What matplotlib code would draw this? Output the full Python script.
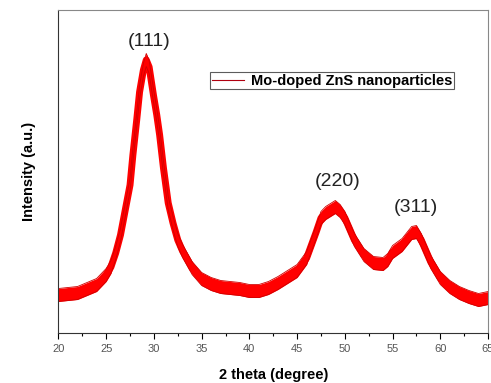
import numpy as np
import matplotlib
matplotlib.use('Agg')
import matplotlib.pyplot as plt
from matplotlib.ticker import MultipleLocator

plt.rcParams['font.family'] = ['Liberation Sans', 'DejaVu Sans']

# XRD pattern (centre of the noisy trace)
two_theta = [20, 21, 22, 23, 24, 25, 25.5, 26, 26.5, 27, 27.5, 27.8, 28.2, 28.5,
             28.9, 29.2, 29.5, 29.95, 30.3, 30.6, 31, 31.5, 32, 32.5, 33, 34, 35,
             36, 37, 38, 39, 40, 41, 42, 43, 44, 45, 46, 46.5, 47, 47.5, 48, 48.5,
             49, 49.5, 50, 51, 52, 53, 54, 54.5, 55, 56, 57, 57.5, 58, 59, 60, 61,
             62, 63, 64, 65]
intensity = [38, 39, 40, 44, 48, 58, 66, 80, 98, 123, 148, 178, 213, 241,
             263, 273, 266, 238, 218, 198, 165, 130, 110, 93, 82, 65, 54,
             49, 46, 45, 44, 42, 42, 45, 50, 56, 62, 75, 88, 101, 115, 120, 123,
             126, 122, 115, 93, 78, 70, 69, 73, 81, 88, 100, 101, 93, 71, 55, 46,
             40, 36, 33, 35]

peak_labels = ['(111)', '(220)', '(311)']
peak_pos = [29.5, 49.2, 57.4]
peak_height = [291, 151, 125]

two_theta = np.array(two_theta)
intensity = np.array(intensity)

fig = plt.figure(figsize=(4.91, 3.83), dpi=100)
ax = fig.add_axes([0.119, 0.1305, 0.875, 0.8435])

noise = 6.5
ax.fill_between(two_theta, intensity - noise, intensity + noise, color='red', lw=0)
ax.plot(two_theta, intensity, color='red', lw=5, solid_joinstyle='round')
ax.plot(two_theta, intensity + noise, color='#d00000', lw=0.6)
ax.plot(two_theta, intensity - noise, color='#d00000', lw=0.6)
# proxy handle for the legend
ax.plot([], [], color='#b00010', lw=0.8, label='Mo-doped ZnS nanoparticles')

for lab, x, y in zip(peak_labels, peak_pos, peak_height):
    ax.text(x, y, lab, ha='center', va='center', fontsize=14, color='#222222')

ax.set_xlim(20, 65)
ax.set_ylim(0, 323)
ax.xaxis.set_major_locator(MultipleLocator(5))
ax.xaxis.set_minor_locator(MultipleLocator(2.5))
ax.tick_params(axis='x', which='major', direction='out', length=4, width=0.8,
               labelsize=8, labelcolor='#555555', pad=4)
ax.tick_params(axis='x', which='minor', direction='out', length=2.5, width=0.8)
ax.set_yticks([])

for s in ['top', 'right']:
    ax.spines[s].set_color('#888888')
for s in ['left', 'bottom']:
    ax.spines[s].set_color('#333333')

ax.set_xlabel('2 theta (degree)', fontsize=10.5, fontweight='bold', labelpad=10)
ax.set_ylabel('Intensity (a.u.)', fontsize=10.5, fontweight='bold', labelpad=16)

leg = ax.legend(loc='upper left', bbox_to_anchor=(0.353, 0.808), borderaxespad=0,
                frameon=True, fancybox=False, handlelength=2.2, borderpad=0.12,
                handletextpad=0.5, prop={'weight': 'bold', 'size': 10.5})
leg.get_frame().set_edgecolor('#333333')
leg.get_frame().set_linewidth(0.8)

fig.savefig('out.png', dpi=100)
